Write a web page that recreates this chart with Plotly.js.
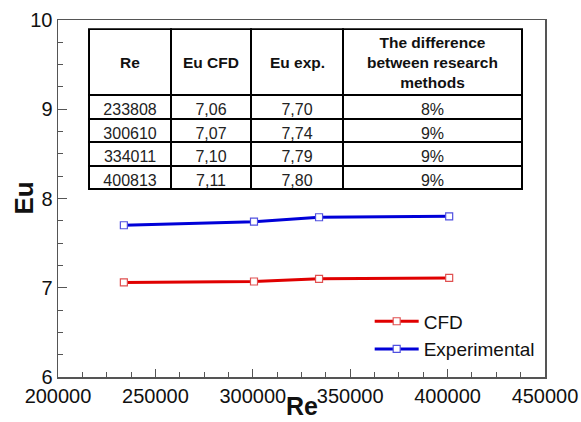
<!DOCTYPE html>
<html>
<head>
<meta charset="utf-8">
<script src="https://cdn.plot.ly/plotly-3.0.1.min.js"></script>
<style>html,body{margin:0;padding:0;background:#fff;}#chart{width:581px;height:422px;}</style>
</head>
<body>
<div id="chart"></div>
<script>
// Data
var re = [233808, 300610, 334011, 400813];
var euCFD = [7.06, 7.07, 7.10, 7.11];
var euExp = [7.70, 7.74, 7.79, 7.80];
var euCFDText = ["7,06", "7,07", "7,10", "7,11"];
var euExpText = ["7,70", "7,74", "7,79", "7,80"];
var diffText = ["8%", "9%", "9%", "9%"];
var tableHeaders = ["Re", "Eu CFD", "Eu exp.", "The difference<br>between research<br>methods"];

var FONT = "Liberation Sans, Arial, sans-serif";

// layout geometry
var W = 581, H = 422;
var M = {l: 58, r: 36, t: 20, b: 45};
var plotW = W - M.l - M.r, plotH = H - M.t - M.b;
var tableDomX = [0.0637, 0.953], tableDomY = [0.50, 0.974];
var colW = [82, 80, 92, 179];
var headerH = 66;

var traces = [
  {
    x: re, y: euCFD, name: "CFD", type: "scatter", mode: "lines+markers",
    line: {color: "#e00000", width: 3},
    marker: {symbol: "square", size: 7, color: "#ffffff", line: {color: "#e05050", width: 1.2}},
    xaxis: "x", yaxis: "y"
  },
  {
    x: re, y: euExp, name: "Experimental", type: "scatter", mode: "lines+markers",
    line: {color: "#0000d8", width: 3},
    marker: {symbol: "square", size: 7, color: "#ffffff", line: {color: "#5050e0", width: 1.2}},
    xaxis: "x", yaxis: "y"
  },
  {
    type: "table",
    domain: {x: tableDomX, y: tableDomY},
    columnwidth: colW,
    header: {
      values: tableHeaders.map(function(){ return [""]; }),
      align: "center",
      height: headerH,
      line: {color: "#000", width: 2},
      fill: {color: "#fff"},
      font: {family: FONT, size: 15, color: "#111"}
    },
    cells: {
      values: [re.map(String), euCFDText, euExpText, diffText],
      align: "center",
      height: 23.5,
      line: {color: "#000", width: 2},
      fill: {color: "#fff"},
      font: {family: FONT, size: 16, color: "#222"}
    }
  }
];

// header labels as centered annotations
var annotations = [];
var totW = colW.reduce(function(a, b){ return a + b; }, 0);
var domW = tableDomX[1] - tableDomX[0];
var acc = 0;
var tableTopPx = M.t + (1 - tableDomY[1]) * plotH;
var headerMidY = 1 - ((tableTopPx + headerH / 2) - M.t) / plotH;
for (var i = 0; i < colW.length; i++) {
  var cx = tableDomX[0] + domW * (acc + colW[i] / 2) / totW;
  acc += colW[i];
  annotations.push({
    xref: "paper", yref: "paper", x: cx, y: headerMidY,
    xanchor: "center", yanchor: "middle", align: "center",
    text: "<b>" + tableHeaders[i] + "</b>", showarrow: false,
    font: {family: FONT, size: 15.5, color: "#111"}
  });
}
// axis titles
annotations.push({
  xref: "paper", yref: "paper", x: (23 - M.l) / plotW, y: 0.5,
  xanchor: "center", yanchor: "middle", textangle: -90,
  text: "<b>Eu</b>", showarrow: false,
  font: {family: FONT, size: 26, color: "#111"}
});
annotations.push({
  xref: "paper", yref: "paper", x: 0.5, y: -(421.5 - (H - M.b)) / plotH,
  xanchor: "center", yanchor: "bottom",
  text: "<b>Re</b>", showarrow: false,
  font: {family: FONT, size: 25, color: "#111"}
});

var layout = {
  width: W, height: H,
  margin: {l: M.l, r: M.r, t: M.t, b: M.b, pad: 0},
  paper_bgcolor: "#fff", plot_bgcolor: "#fff",
  font: {family: FONT, color: "#111"},
  showlegend: true,
  legend: {
    x: 0.64, y: 0.209, xanchor: "left", yanchor: "top",
    itemwidth: 44,
    bgcolor: "rgba(0,0,0,0)", font: {family: FONT, size: 19, color: "#111"},
    tracegroupgap: 0
  },
  annotations: annotations,
  xaxis: {
    range: [200000, 450000], dtick: 50000, tick0: 200000, tickformat: "d",
    ticks: "inside", ticklen: 8, tickwidth: 1, tickcolor: "#555",
    minor: {dtick: 12500, ticks: "inside", ticklen: 5, tickcolor: "#555"},
    showline: true, linecolor: "#555", linewidth: 1.5, mirror: true,
    showgrid: false, zeroline: false,
    tickfont: {family: FONT, size: 20, color: "#111"},
    automargin: false
  },
  yaxis: {
    range: [6, 10], dtick: 1, tick0: 6,
    ticks: "inside", ticklen: 9, tickwidth: 1, tickcolor: "#555",
    minor: {dtick: 0.25, ticks: "inside", ticklen: 5, tickcolor: "#555"},
    showline: true, linecolor: "#555", linewidth: 1.5, mirror: true,
    showgrid: false, zeroline: false,
    tickfont: {family: FONT, size: 20, color: "#111"},
    automargin: false
  }
};

Plotly.newPlot("chart", traces, layout, {displayModeBar: false, staticPlot: true});
</script>
</body>
</html>
